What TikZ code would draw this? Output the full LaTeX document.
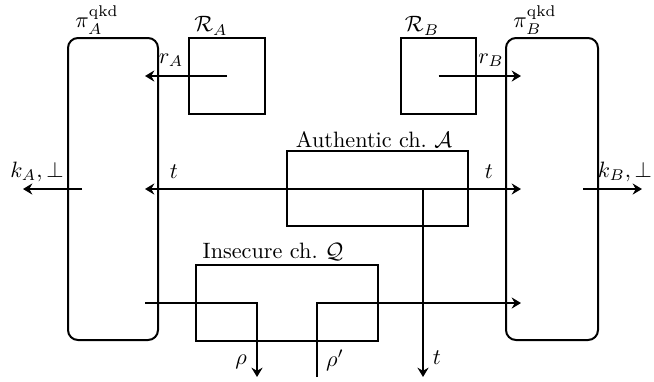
\documentclass[tikz,border=0pt]{standalone}
\usetikzlibrary{arrows.meta}
\begin{document}
\begin{tikzpicture}[x=0.45pt,y=-0.45pt,line width=0.9pt,
  party/.style={draw,rounded corners=4.5pt,minimum width=#1,minimum height=135.9pt,inner sep=0pt},
  chan/.style={draw,minimum width=#1,minimum height=34pt,inner sep=0pt},
  rbox/.style={draw,minimum width=34pt,minimum height=34pt,inner sep=0pt},
  lbl/.style={inner sep=0pt},
  tip/.tip={Stealth[length=4.2pt,width=5pt,inset=1.4pt]},
  arr/.style={-tip},
  darr/.style={tip-tip}]
\useasboundingbox (0,0) rectangle (654,381);
% boxes
\node[party=40.5pt] (PA) at (113,189) {};
\node[party=41.4pt] (PB) at (552,189) {};
\node[rbox] (RA) at (227,76) {};
\node[rbox] (RB) at (438.5,76) {};
\node[chan=81.45pt] (AU) at (377.5,188.5) {};
\node[chan=81.9pt] (IN) at (287,303) {};
% labels
\node[lbl] (lPA) at (97,20) {$\pi_A^{\mathrm{qkd}}$};
\node[lbl] (lPB) at (535,20) {$\pi_B^{\mathrm{qkd}}$};
\node[lbl] (lRA) at (211,26) {$\mathcal{R}_A$};
\node[lbl] (lRB) at (422,26) {$\mathcal{R}_B$};
\node[lbl] (lAU) at (374,140) {Authentic ch.\ $\mathcal{A}$};
\node[lbl] (lIN) at (273,252) {Insecure ch.\ $\mathcal{Q}$};
\node[lbl] (lrA) at (171,60) {$r_A$};
\node[lbl] (lrB) at (491,60) {$r_B$};
\node[lbl] (ltL) at (174,172) {$t$};
\node[lbl] (ltR) at (489,172) {$t$};
\node[lbl] (lkA) at (37,172) {$k_A,\perp$};
\node[lbl] (lkB) at (625,172) {$k_B,\perp$};
\node[lbl] (lrho) at (241,362) {$\rho$};
\node[lbl] (lrhop) at (335,360) {$\rho'$};
\node[lbl] (ltB) at (437,358) {$t$};
% coordinates
\coordinate (rAend) at (145,76);
\coordinate (rBend) at (521,76);
\coordinate (tL) at (145,189);
\coordinate (tR) at (521,189);
\coordinate (kAs) at (82,189);
\coordinate (kAe) at (23,189);
\coordinate (kBs) at (583,189);
\coordinate (kBe) at (642,189);
\coordinate (tVs) at (423,189);
\coordinate (tVe) at (423,377);
\coordinate (q1s) at (145,303);
\coordinate (q1e) at (257,377);
\coordinate (q2s) at (317,377);
\coordinate (q2e) at (521,303);
% connectors
\draw[arr] (RA.center) -- (rAend);
\draw[arr] (RB.center) -- (rBend);
\draw[darr] (tL) -- (tR);
\draw[arr] (kAs) -- (kAe);
\draw[arr] (kBs) -- (kBe);
\draw[arr] (tVs) -- (tVe);
\draw[arr] (q1s) -| (q1e);
\draw[arr] (q2s) |- (q2e);
\end{tikzpicture}
\end{document}
